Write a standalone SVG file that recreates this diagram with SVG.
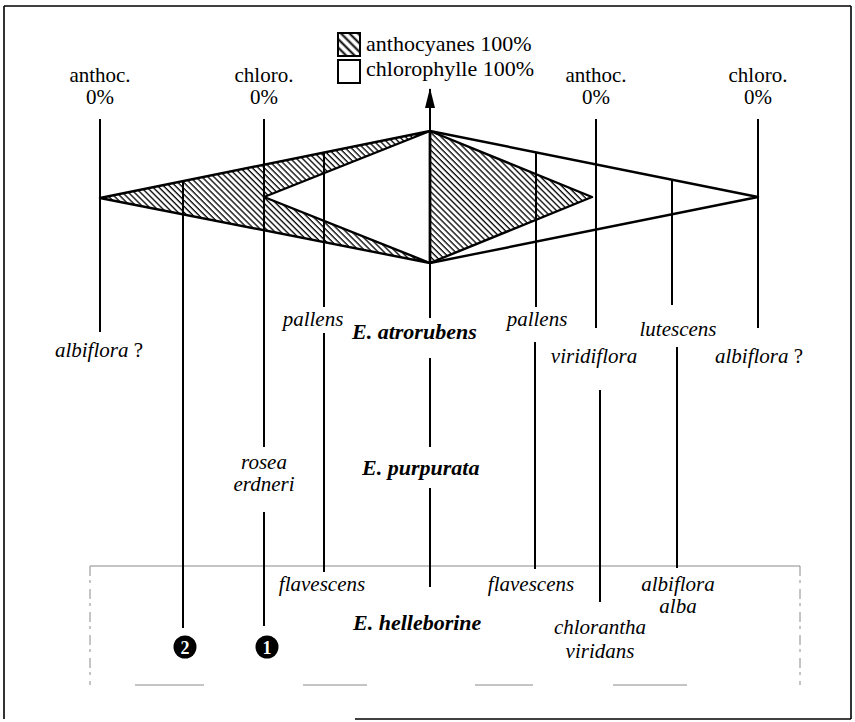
<svg xmlns="http://www.w3.org/2000/svg" width="855" height="722" viewBox="0 0 855 722">
<style>
.rm{font-family:"Liberation Serif","Times New Roman",serif;font-size:21px;fill:#000}
.lg{font-family:"Liberation Serif","Times New Roman",serif;font-size:22px;fill:#000}
.it{font-family:"Liberation Serif","Times New Roman",serif;font-size:21px;font-style:italic;fill:#000}
.bi{font-family:"Liberation Serif","Times New Roman",serif;font-size:22px;font-style:italic;font-weight:bold;fill:#000}
.ln{stroke:#000;stroke-width:2;fill:none}
.sh{stroke:#000;stroke-width:2.4;stroke-linejoin:round}
.num{font-family:"Liberation Serif","Times New Roman",serif;font-size:18px;font-weight:bold;fill:#fff}
</style>
<defs>
<pattern id="hatch" patternUnits="userSpaceOnUse" width="4.2" height="10" patternTransform="rotate(-45)">
<line x1="1" y1="0" x2="1" y2="10" stroke="#000" stroke-width="1.3"/>
</pattern>
<pattern id="hatchL" patternUnits="userSpaceOnUse" width="6" height="10" patternTransform="rotate(-45)">
<line x1="1.5" y1="0" x2="1.5" y2="10" stroke="#000" stroke-width="2"/>
</pattern>
<marker id="arr" viewBox="0 0 20 10" refX="19" refY="5" markerWidth="20" markerHeight="10" markerUnits="userSpaceOnUse" orient="auto">
<polygon points="20,5 0,0 0,10" fill="#000"/>
</marker>
</defs>
<rect width="855" height="722" fill="#fff"/>
<g id="frame">
<line x1="4" y1="6" x2="851" y2="6" stroke="#000" stroke-width="1.6"/>
<line x1="4" y1="6" x2="4" y2="719" stroke="#000" stroke-width="1.6"/>
<line x1="851" y1="6" x2="851" y2="719" stroke="#000" stroke-width="1.6"/>
<line x1="355" y1="719" x2="851" y2="719" stroke="#000" stroke-width="1.6"/>
</g>
<g id="inner-box" stroke="#8a8a8a" stroke-width="1" fill="none">
<line x1="90" y1="566" x2="800" y2="566"/>
<line x1="90" y1="566" x2="90" y2="685" stroke-dasharray="10 4 3 6"/>
<line x1="800" y1="566" x2="800" y2="685" stroke-dasharray="10 4 3 6"/>
<path d="M135,685 H204 M303,685 H367 M475,685 H533 M613,685 H687"/>
</g>
<g id="legend">
<rect x="338" y="33" width="22" height="23" fill="url(#hatchL)" stroke="#000" stroke-width="2"/>
<text class="lg" x="366" y="51">anthocyanes 100%</text>
<rect x="338" y="60" width="22" height="23" fill="#fff" stroke="#000" stroke-width="2"/>
<text class="lg" x="366" y="76">chlorophylle 100%</text>
</g>
<g id="shapes">
<path class="sh" d="M100,198 L430,131 L264,197 L430,263 Z" fill="url(#hatch)"/>
<path class="sh" d="M430,131 L758,197 L430,263 Z" fill="none"/>
<path class="sh" d="M430,131 L592,197 L430,263 Z" fill="url(#hatch)"/>
</g>
<g id="connectors">
<line class="ln" x1="430" y1="263" x2="430" y2="89" marker-end="url(#arr)"/>
<line class="ln" x1="100" y1="119" x2="100" y2="332"/>
<line class="ln" x1="183" y1="181" x2="183" y2="628"/>
<line class="ln" x1="264" y1="119" x2="264" y2="447"/>
<line class="ln" x1="264" y1="512" x2="264" y2="626"/>
<line class="ln" x1="324" y1="152.5" x2="324" y2="307"/>
<line class="ln" x1="324" y1="333" x2="324" y2="572"/>
<line class="ln" x1="430" y1="263" x2="430" y2="318"/>
<line class="ln" x1="430" y1="358" x2="430" y2="447"/>
<line class="ln" x1="430" y1="488" x2="430" y2="587"/>
<line class="ln" x1="536" y1="152.3" x2="536" y2="307"/>
<line class="ln" x1="535" y1="342" x2="535" y2="569"/>
<line class="ln" x1="596" y1="119" x2="596" y2="328"/>
<line class="ln" x1="600" y1="390" x2="600" y2="602"/>
<line class="ln" x1="672" y1="180" x2="672" y2="305"/>
<line class="ln" x1="677" y1="347" x2="677" y2="568"/>
<line class="ln" x1="758" y1="119" x2="758" y2="328"/>
</g>
<g id="top-labels" text-anchor="middle">
<text class="rm" x="100" y="82">anthoc.</text>
<text class="rm" x="100" y="104">0%</text>
<text class="rm" x="264" y="82">chloro.</text>
<text class="rm" x="264" y="104">0%</text>
<text class="rm" x="596" y="82">anthoc.</text>
<text class="rm" x="596" y="104">0%</text>
<text class="rm" x="758" y="82">chloro.</text>
<text class="rm" x="758" y="104">0%</text>
</g>
<g id="labels">
<text class="it" x="99" y="357" text-anchor="middle">albiflora<tspan class="rm" font-style="normal"> ?</tspan></text>
<text class="it" x="313" y="326" text-anchor="middle">pallens</text>
<text class="bi" x="352" y="339">E. atrorubens</text>
<text class="it" x="537" y="326" text-anchor="middle">pallens</text>
<text class="it" x="678" y="336" text-anchor="middle">lutescens</text>
<text class="it" x="594" y="363" text-anchor="middle">viridiflora</text>
<text class="it" x="715" y="363">albiflora<tspan class="rm" font-style="normal"> ?</tspan></text>
<text class="it" x="264" y="469" text-anchor="middle">rosea</text>
<text class="it" x="264" y="491" text-anchor="middle">erdneri</text>
<text class="bi" x="362" y="475">E. purpurata</text>
<text class="it" x="322" y="591" text-anchor="middle">flavescens</text>
<text class="it" x="531" y="591" text-anchor="middle">flavescens</text>
<text class="it" x="678" y="591" text-anchor="middle">albiflora</text>
<text class="it" x="678" y="613" text-anchor="middle">alba</text>
<text class="bi" x="353" y="630">E. helleborine</text>
<text class="it" x="600" y="634" text-anchor="middle">chlorantha</text>
<text class="it" x="600" y="658" text-anchor="middle">viridans</text>
</g>
<g id="marker-2">
<circle cx="185" cy="647" r="11.5" fill="#000"/>
<text class="num" x="185" y="653.5" text-anchor="middle">2</text>
</g>
<g id="marker-1">
<circle cx="267" cy="647" r="11.5" fill="#000"/>
<text class="num" x="267" y="653.5" text-anchor="middle">1</text>
</g>
</svg>
